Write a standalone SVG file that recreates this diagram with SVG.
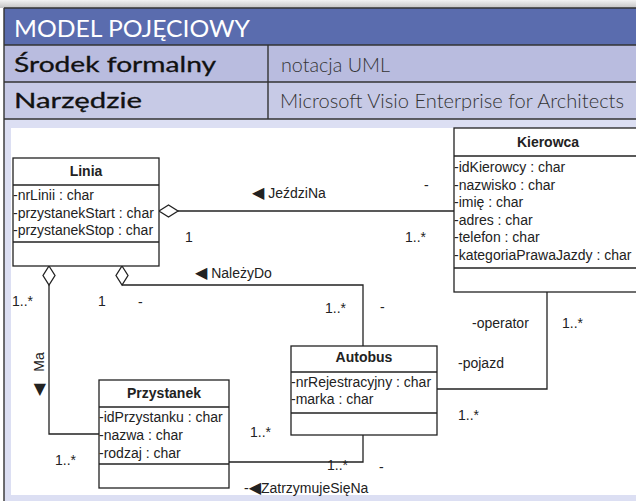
<svg xmlns="http://www.w3.org/2000/svg" width="636" height="501" viewBox="0 0 636 501">
<defs>
<linearGradient id="shadow" x1="0" y1="0" x2="0" y2="1">
<stop offset="0" stop-color="#f2f2f2"/>
<stop offset="1" stop-color="#c4c4c4"/>
</linearGradient>
<style>
.frame{stroke:#333;stroke-width:1.4;fill:none}
.hd{font-family:"Lato","Noto Sans","Liberation Sans",sans-serif}
.med{fill:#111;stroke:#111;stroke-width:0.3}
.box{fill:#fff;stroke:#222;stroke-width:1.3}
.sep{stroke:#222;stroke-width:1.3}
.t{font-family:"Liberation Sans",Arial,sans-serif;font-size:14px;fill:#222}
.b{font-weight:bold;text-anchor:middle}
.tri{font-family:"DejaVu Sans",sans-serif;font-size:16px}
.conn{fill:none;stroke:#222;stroke-width:1.3}
.dia{fill:#fff;stroke:#222;stroke-width:1.3}
</style>
</defs>
<rect x="0" y="0" width="636" height="501" fill="#ffffff"/>
<rect x="0" y="0" width="636" height="8" fill="url(#shadow)"/>
<!-- header table -->
<rect x="4" y="8" width="632" height="37" fill="#5a6cae"/>
<rect x="4" y="45" width="632" height="37" fill="#b9bcdf"/>
<rect x="4" y="82" width="632" height="37" fill="#c7cae6"/>
<rect x="4" y="119" width="632" height="382" fill="#dcdff3"/>
<rect x="11" y="128" width="625" height="367" fill="#ffffff"/>
<line class="frame" x1="4" y1="8" x2="636" y2="8"/>
<line class="frame" x1="4" y1="8" x2="4" y2="501"/>
<line class="frame" x1="4" y1="45" x2="636" y2="45"/>
<line class="frame" x1="4" y1="82" x2="636" y2="82"/>
<line class="frame" x1="4" y1="119" x2="636" y2="119"/>
<line class="frame" x1="268" y1="45" x2="268" y2="119"/>
<text class="hd" x="14" y="37" font-size="24" fill="#ffffff" textLength="236" lengthAdjust="spacingAndGlyphs">MODEL POJĘCIOWY</text>
<text class="hd med" x="14" y="72" font-size="21" textLength="202" lengthAdjust="spacingAndGlyphs">Środek formalny</text>
<text class="hd med" x="14" y="108" font-size="21" textLength="128" lengthAdjust="spacingAndGlyphs">Narzędzie</text>
<text class="hd" x="281" y="72" font-size="19" font-weight="300" fill="#333" textLength="109" lengthAdjust="spacingAndGlyphs">notacja UML</text>
<text class="hd" x="280" y="108" font-size="19" font-weight="300" fill="#333" textLength="344" lengthAdjust="spacingAndGlyphs">Microsoft Visio Enterprise for Architects</text>

<!-- connectors -->
<g id="connectors">
<line class="conn" x1="178" y1="211" x2="454" y2="211"/>
<polygon class="dia" points="159,211 168.5,205 178,211 168.5,217"/>
<polyline class="conn" points="122,285 363,285 363,346"/>
<polygon class="dia" points="122,266 128,275.5 122,285 116,275.5"/>
<polyline class="conn" points="49,285 49,434 99,434"/>
<polygon class="dia" points="49,266 55,275.5 49,285 43,275.5"/>
<polyline class="conn" points="229,462 363,462 363,435"/>
<polyline class="conn" points="437,389 547,389 547,292"/>
<text class="t" x="252" y="198"><tspan class="tri">◀</tspan> JeździNa</text>
<text class="t" x="424" y="190">-</text>
<text class="t" x="185" y="242">1</text>
<text class="t" x="405" y="242">1..*</text>
<text class="t" x="195" y="278"><tspan class="tri">◀</tspan> NależyDo</text>
<text class="t" x="98" y="306">1</text>
<text class="t" x="138" y="307">-</text>
<text class="t" x="12" y="306">1..*</text>
<text class="t" x="325" y="313">1..*</text>
<text class="t" x="380" y="312">-</text>
<text class="t" x="472" y="328">-operator</text>
<text class="t" x="562" y="328">1..*</text>
<text class="t" x="458" y="368">-pojazd</text>
<text class="t" x="458" y="420">1..*</text>
<text class="t" transform="translate(44,396) rotate(-90)"><tspan class="tri">◀</tspan><tspan dx="12">Ma</tspan></text>
<text class="t" x="55" y="465">1..*</text>
<text class="t" x="250" y="437">1..*</text>
<text class="t" x="327" y="470">1..*</text>
<text class="t" x="379" y="472">-</text>
<text class="t" x="244" y="493">-<tspan class="tri">◀</tspan>ZatrzymujeSięNa</text>
</g>

<!-- Linia -->
<g id="linia">
<rect class="box" x="13" y="158" width="146" height="108"/>
<line class="sep" x1="13" y1="185" x2="159" y2="185"/>
<line class="sep" x1="13" y1="242" x2="159" y2="242"/>
<text class="t b" x="86" y="176">Linia</text>
<text class="t" x="13" y="200">-nrLinii : char</text>
<text class="t" x="13" y="217.5">-przystanekStart : char</text>
<text class="t" x="13" y="235">-przystanekStop : char</text>
</g>

<!-- Kierowca -->
<g id="kierowca">
<rect class="box" x="454" y="128" width="200" height="164"/>
<line class="sep" x1="454" y1="156" x2="654" y2="156"/>
<line class="sep" x1="454" y1="268" x2="654" y2="268"/>
<text class="t b" x="548" y="147">Kierowca</text>
<text class="t" x="454" y="172">-idKierowcy : char</text>
<text class="t" x="454" y="189.5">-nazwisko : char</text>
<text class="t" x="454" y="207">-imię : char</text>
<text class="t" x="454" y="224.5">-adres : char</text>
<text class="t" x="454" y="242">-telefon : char</text>
<text class="t" x="454" y="259.5">-kategoriaPrawaJazdy : char</text>
</g>

<!-- Autobus -->
<g id="autobus">
<rect class="box" x="291" y="346" width="146" height="89"/>
<line class="sep" x1="291" y1="372" x2="437" y2="372"/>
<line class="sep" x1="291" y1="413" x2="437" y2="413"/>
<text class="t b" x="364" y="362">Autobus</text>
<text class="t" x="291" y="387">-nrRejestracyjny : char</text>
<text class="t" x="291" y="404">-marka : char</text>
</g>

<!-- Przystanek -->
<g id="przystanek">
<rect class="box" x="99" y="380" width="130" height="108"/>
<line class="sep" x1="99" y1="407" x2="229" y2="407"/>
<line class="sep" x1="99" y1="464" x2="229" y2="464"/>
<text class="t b" x="164" y="398">Przystanek</text>
<text class="t" x="99" y="422">-idPrzystanku : char</text>
<text class="t" x="99" y="440">-nazwa : char</text>
<text class="t" x="99" y="458">-rodzaj : char</text>
</g>
</svg>
